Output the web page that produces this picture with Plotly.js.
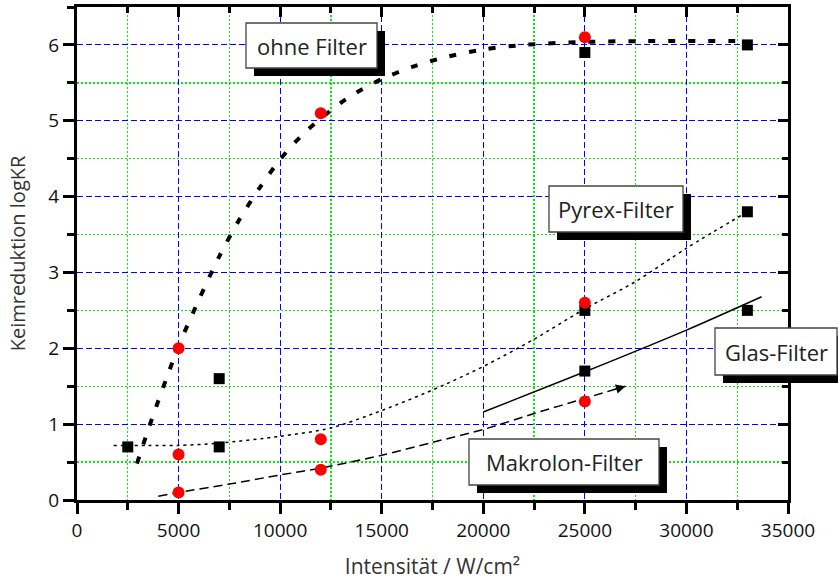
<!DOCTYPE html>
<html>
<head>
<meta charset="utf-8">
<script src="https://cdn.plot.ly/plotly-3.0.1.min.js"></script>
<style>html,body{margin:0;padding:0;background:#fff;}#chart{width:838px;height:580px;}</style>
</head>
<body>
<div id="chart"></div>
<script>
// ---- data ----
const squareX = [2500, 7000, 7000, 25000, 25000, 25000, 33000, 33000, 33000];
const squareY = [0.7, 1.6, 0.7, 5.9, 2.5, 1.7, 6.0, 3.8, 2.5];
const circleX = [5000, 5000, 5000, 12000, 12000, 12000, 25000, 25000, 25000];
const circleY = [2.0, 0.6, 0.1, 5.1, 0.8, 0.4, 6.1, 2.6, 1.3];

const ohneX = [2950, 3700, 4400, 5000, 6000, 7000, 8000, 9000, 10000, 11000, 12000, 13000, 14000, 15000, 16500, 18000, 20000, 22000, 25000, 28000, 33000];
const ohneY = [0.48, 1.08, 1.6, 2.03, 2.64, 3.21, 3.70, 4.12, 4.49, 4.79, 5.03, 5.24, 5.41, 5.55, 5.71, 5.83, 5.94, 6.0, 6.04, 6.05, 6.05];

const pyrexX = [1800, 3500, 5000, 7000, 10000, 12500, 15000, 17500, 20000, 22500, 25000, 27500, 30000, 33000];
const pyrexY = [0.72, 0.72, 0.72, 0.75, 0.84, 0.95, 1.18, 1.45, 1.76, 2.12, 2.52, 2.88, 3.32, 3.8];

const glasX = [20000, 25000, 30000, 33700];
const glasY = [1.16, 1.69, 2.24, 2.68];

const makroX = [4000, 5000, 7500, 10000, 12000, 15000, 17500, 20000, 22500, 25000, 27000];
const makroY = [0.05, 0.1, 0.21, 0.33, 0.42, 0.59, 0.76, 0.93, 1.14, 1.34, 1.5];

const labelTexts = ["ohne Filter", "Pyrex-Filter", "Glas-Filter", "Makrolon-Filter"];

const xTitle = "Intensität / W/cm²";
const yTitle = "Keimreduktion logKR";
const xRange = [0, 35000];
const yRange = [0, 6.5];

// ---- layout geometry (pixels) ----
const W = 838, H = 580;
const M = {l: 77, r: 50, t: 7, b: 80};
const PW = W - M.l - M.r, PH = H - M.t - M.b;
const px = v => (v - M.l) / PW;
const py = v => (H - M.b - v) / PH;

// label boxes in pixel coords: [x0, y0, x1, y1]
const boxes = [
  [246, 23, 377, 68],
  [549, 186, 683, 232],
  [715, 328, 837, 375],
  [469, 439, 659, 485]
];
const shadowOff = 8;

const FONT = "Open Sans, Noto Sans, sans-serif";

const traces = [
  {x: ohneX, y: ohneY, mode: 'lines', line: {color: '#000', width: 4, dash: '7px,13px', shape: 'spline', smoothing: 0.8}, hoverinfo: 'skip'},
  {x: pyrexX, y: pyrexY, mode: 'lines', line: {color: '#000', width: 1.5, dash: '3px,4px', shape: 'spline', smoothing: 0.8}, hoverinfo: 'skip'},
  {x: glasX, y: glasY, mode: 'lines', line: {color: '#000', width: 1.5, shape: 'spline', smoothing: 0.8}, hoverinfo: 'skip'},
  {x: makroX, y: makroY, mode: 'lines', line: {color: '#000', width: 1.5, dash: '9px,5px', shape: 'spline', smoothing: 0.8}, hoverinfo: 'skip'},
  {x: squareX, y: squareY, mode: 'markers', marker: {symbol: 'square', size: 11, color: '#000'}},
  {x: circleX, y: circleY, mode: 'markers', marker: {symbol: 'circle', size: 12, color: '#ff0000'}},
  {x: [], y: [], xaxis: 'x2', yaxis: 'y2', mode: 'markers'}
];

const shapes = [];
const annotations = [];
boxes.forEach((b, i) => {
  shapes.push({type: 'rect', xref: 'paper', yref: 'paper', layer: 'above',
    x0: px(b[0] + shadowOff), x1: px(b[2] + shadowOff), y0: py(b[3] + shadowOff), y1: py(b[1] + shadowOff),
    fillcolor: '#000', line: {width: 0}});
  shapes.push({type: 'rect', xref: 'paper', yref: 'paper', layer: 'above',
    x0: px(b[0]), x1: px(b[2]), y0: py(b[3]), y1: py(b[1]),
    fillcolor: '#fff', line: {color: '#444', width: 1.3}});
  annotations.push({xref: 'paper', yref: 'paper', x: px((b[0] + b[2]) / 2), y: py((b[1] + b[3]) / 2),
    xanchor: 'center', yanchor: 'middle', showarrow: false, text: labelTexts[i],
    font: {family: FONT, size: 22, color: '#222'}});
});

// arrow head on the Makrolon curve, derived from its last segment
const n = makroX.length;
annotations.push({
  x: makroX[n - 1], y: makroY[n - 1], xref: 'x', yref: 'y',
  ax: makroX[n - 1] - 0.3 * (makroX[n - 1] - makroX[n - 2]),
  ay: makroY[n - 1] - 0.3 * (makroY[n - 1] - makroY[n - 2]),
  axref: 'x', ayref: 'y', showarrow: true, arrowhead: 2, arrowsize: 1.6, arrowwidth: 1.2,
  arrowcolor: '#000', text: ''
});

const commonAxis = {
  showline: true, linecolor: '#000', linewidth: 3, zeroline: false,
  tickcolor: '#000', tickwidth: 3, fixedrange: true
};

const layout = {
  width: W, height: H,
  margin: M,
  paper_bgcolor: '#fff', plot_bgcolor: '#fff',
  showlegend: false,
  font: {family: FONT, size: 19, color: '#000'},
  xaxis: Object.assign({}, commonAxis, {
    range: xRange, dtick: 5000, tick0: 0, ticks: 'outside', ticklen: 11, tickformat: 'd',
    tickfont: {family: FONT, size: 19, color: '#111'},
    showgrid: true, gridcolor: '#0000ff', gridwidth: 1, griddash: '6px,3px',
    minor: {dtick: 2500, ticks: 'outside', ticklen: 7, tickwidth: 3, tickcolor: '#000', showgrid: true, gridcolor: '#00ee00', gridwidth: 1.3, griddash: '2px,2px'},
    title: {text: xTitle, font: {family: FONT, size: 21, color: '#333'}, standoff: 20}
  }),
  yaxis: Object.assign({}, commonAxis, {
    range: yRange, dtick: 1, tick0: 0, ticks: 'outside', ticklen: 11,
    tickfont: {family: FONT, size: 19, color: '#111'},
    showgrid: true, gridcolor: '#0000ff', gridwidth: 1, griddash: '6px,3px',
    minor: {dtick: 0.5, ticks: 'outside', ticklen: 7, tickwidth: 3, tickcolor: '#000', showgrid: true, gridcolor: '#00ee00', gridwidth: 1.3, griddash: '2px,2px'},
    title: {text: yTitle, font: {family: FONT, size: 20, color: '#333'}, standoff: 18}
  }),
  xaxis2: Object.assign({}, commonAxis, {
    overlaying: 'x', side: 'top', range: xRange, dtick: 5000, tick0: 0,
    ticks: 'inside', ticklen: 10, showticklabels: false, showgrid: false,
    minor: {dtick: 2500, ticks: 'inside', ticklen: 6, tickwidth: 3, tickcolor: '#000', showgrid: false}
  }),
  yaxis2: Object.assign({}, commonAxis, {
    overlaying: 'y', side: 'right', range: yRange, dtick: 1, tick0: 0,
    ticks: 'inside', ticklen: 10, showticklabels: false, showgrid: false,
    minor: {dtick: 0.5, ticks: 'inside', ticklen: 6, tickwidth: 3, tickcolor: '#000', showgrid: false}
  }),
  shapes: shapes,
  annotations: annotations
};

Plotly.newPlot('chart', traces, layout, {displayModeBar: false, staticPlot: true});
</script>
</body>
</html>
